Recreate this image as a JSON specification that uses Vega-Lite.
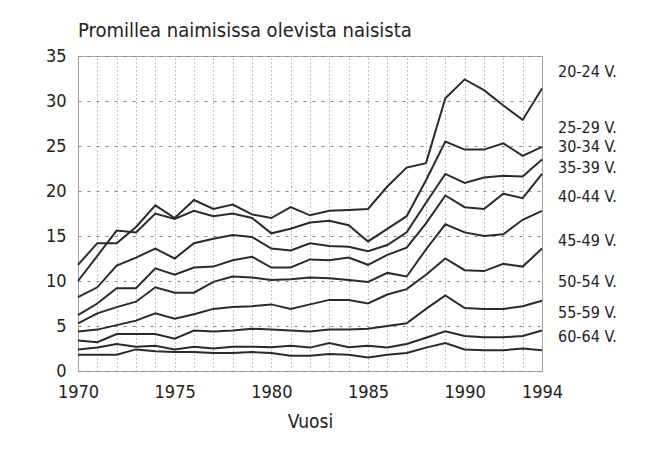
{
  "$schema": "https://vega.github.io/schema/vega-lite/v6.json",
  "width": 464,
  "height": 315,
  "autosize": "none",
  "padding": {"left": 78, "top": 56, "right": 122, "bottom": 84},
  "background": "white",
  "title": {
    "text": "Promillea naimisissa olevista naisista",
    "anchor": "start",
    "frame": "group",
    "offset": 6,
    "font": "DejaVu Sans Condensed, sans-serif",
    "fontSize": 20,
    "fontWeight": "normal",
    "color": "#222"
  },
  "datasets": {
    "rates": [
      {"year": 1970, "age": "20-24 V.", "value": 11.8}, {"year": 1971, "age": "20-24 V.", "value": 14.2}, {"year": 1972, "age": "20-24 V.", "value": 14.2}, {"year": 1973, "age": "20-24 V.", "value": 16.0}, {"year": 1974, "age": "20-24 V.", "value": 18.4}, {"year": 1975, "age": "20-24 V.", "value": 17.0}, {"year": 1976, "age": "20-24 V.", "value": 19.0}, {"year": 1977, "age": "20-24 V.", "value": 18.0}, {"year": 1978, "age": "20-24 V.", "value": 18.5}, {"year": 1979, "age": "20-24 V.", "value": 17.4}, {"year": 1980, "age": "20-24 V.", "value": 17.0}, {"year": 1981, "age": "20-24 V.", "value": 18.2}, {"year": 1982, "age": "20-24 V.", "value": 17.3}, {"year": 1983, "age": "20-24 V.", "value": 17.8}, {"year": 1984, "age": "20-24 V.", "value": 17.9}, {"year": 1985, "age": "20-24 V.", "value": 18.0}, {"year": 1986, "age": "20-24 V.", "value": 20.5}, {"year": 1987, "age": "20-24 V.", "value": 22.6}, {"year": 1988, "age": "20-24 V.", "value": 23.1}, {"year": 1989, "age": "20-24 V.", "value": 30.3}, {"year": 1990, "age": "20-24 V.", "value": 32.4}, {"year": 1991, "age": "20-24 V.", "value": 31.2}, {"year": 1992, "age": "20-24 V.", "value": 29.5}, {"year": 1993, "age": "20-24 V.", "value": 27.9}, {"year": 1994, "age": "20-24 V.", "value": 31.4},
      {"year": 1970, "age": "25-29 V.", "value": 10.0}, {"year": 1971, "age": "25-29 V.", "value": 12.8}, {"year": 1972, "age": "25-29 V.", "value": 15.6}, {"year": 1973, "age": "25-29 V.", "value": 15.4}, {"year": 1974, "age": "25-29 V.", "value": 17.5}, {"year": 1975, "age": "25-29 V.", "value": 16.9}, {"year": 1976, "age": "25-29 V.", "value": 17.8}, {"year": 1977, "age": "25-29 V.", "value": 17.2}, {"year": 1978, "age": "25-29 V.", "value": 17.5}, {"year": 1979, "age": "25-29 V.", "value": 17.0}, {"year": 1980, "age": "25-29 V.", "value": 15.3}, {"year": 1981, "age": "25-29 V.", "value": 15.8}, {"year": 1982, "age": "25-29 V.", "value": 16.5}, {"year": 1983, "age": "25-29 V.", "value": 16.7}, {"year": 1984, "age": "25-29 V.", "value": 16.2}, {"year": 1985, "age": "25-29 V.", "value": 14.4}, {"year": 1986, "age": "25-29 V.", "value": 15.8}, {"year": 1987, "age": "25-29 V.", "value": 17.2}, {"year": 1988, "age": "25-29 V.", "value": 21.2}, {"year": 1989, "age": "25-29 V.", "value": 25.5}, {"year": 1990, "age": "25-29 V.", "value": 24.6}, {"year": 1991, "age": "25-29 V.", "value": 24.6}, {"year": 1992, "age": "25-29 V.", "value": 25.3}, {"year": 1993, "age": "25-29 V.", "value": 23.9}, {"year": 1994, "age": "25-29 V.", "value": 24.9},
      {"year": 1970, "age": "30-34 V.", "value": 8.2}, {"year": 1971, "age": "30-34 V.", "value": 9.3}, {"year": 1972, "age": "30-34 V.", "value": 11.7}, {"year": 1973, "age": "30-34 V.", "value": 12.6}, {"year": 1974, "age": "30-34 V.", "value": 13.6}, {"year": 1975, "age": "30-34 V.", "value": 12.5}, {"year": 1976, "age": "30-34 V.", "value": 14.2}, {"year": 1977, "age": "30-34 V.", "value": 14.7}, {"year": 1978, "age": "30-34 V.", "value": 15.1}, {"year": 1979, "age": "30-34 V.", "value": 14.9}, {"year": 1980, "age": "30-34 V.", "value": 13.6}, {"year": 1981, "age": "30-34 V.", "value": 13.4}, {"year": 1982, "age": "30-34 V.", "value": 14.2}, {"year": 1983, "age": "30-34 V.", "value": 13.9}, {"year": 1984, "age": "30-34 V.", "value": 13.8}, {"year": 1985, "age": "30-34 V.", "value": 13.3}, {"year": 1986, "age": "30-34 V.", "value": 14.0}, {"year": 1987, "age": "30-34 V.", "value": 15.4}, {"year": 1988, "age": "30-34 V.", "value": 18.7}, {"year": 1989, "age": "30-34 V.", "value": 21.9}, {"year": 1990, "age": "30-34 V.", "value": 20.9}, {"year": 1991, "age": "30-34 V.", "value": 21.5}, {"year": 1992, "age": "30-34 V.", "value": 21.7}, {"year": 1993, "age": "30-34 V.", "value": 21.6}, {"year": 1994, "age": "30-34 V.", "value": 23.5},
      {"year": 1970, "age": "35-39 V.", "value": 6.2}, {"year": 1971, "age": "35-39 V.", "value": 7.5}, {"year": 1972, "age": "35-39 V.", "value": 9.2}, {"year": 1973, "age": "35-39 V.", "value": 9.2}, {"year": 1974, "age": "35-39 V.", "value": 11.4}, {"year": 1975, "age": "35-39 V.", "value": 10.7}, {"year": 1976, "age": "35-39 V.", "value": 11.5}, {"year": 1977, "age": "35-39 V.", "value": 11.6}, {"year": 1978, "age": "35-39 V.", "value": 12.3}, {"year": 1979, "age": "35-39 V.", "value": 12.7}, {"year": 1980, "age": "35-39 V.", "value": 11.5}, {"year": 1981, "age": "35-39 V.", "value": 11.5}, {"year": 1982, "age": "35-39 V.", "value": 12.4}, {"year": 1983, "age": "35-39 V.", "value": 12.3}, {"year": 1984, "age": "35-39 V.", "value": 12.6}, {"year": 1985, "age": "35-39 V.", "value": 11.8}, {"year": 1986, "age": "35-39 V.", "value": 12.9}, {"year": 1987, "age": "35-39 V.", "value": 13.7}, {"year": 1988, "age": "35-39 V.", "value": 16.4}, {"year": 1989, "age": "35-39 V.", "value": 19.5}, {"year": 1990, "age": "35-39 V.", "value": 18.2}, {"year": 1991, "age": "35-39 V.", "value": 18.0}, {"year": 1992, "age": "35-39 V.", "value": 19.7}, {"year": 1993, "age": "35-39 V.", "value": 19.2}, {"year": 1994, "age": "35-39 V.", "value": 21.9},
      {"year": 1970, "age": "40-44 V.", "value": 5.3}, {"year": 1971, "age": "40-44 V.", "value": 6.4}, {"year": 1972, "age": "40-44 V.", "value": 7.1}, {"year": 1973, "age": "40-44 V.", "value": 7.7}, {"year": 1974, "age": "40-44 V.", "value": 9.3}, {"year": 1975, "age": "40-44 V.", "value": 8.7}, {"year": 1976, "age": "40-44 V.", "value": 8.7}, {"year": 1977, "age": "40-44 V.", "value": 9.9}, {"year": 1978, "age": "40-44 V.", "value": 10.5}, {"year": 1979, "age": "40-44 V.", "value": 10.4}, {"year": 1980, "age": "40-44 V.", "value": 10.1}, {"year": 1981, "age": "40-44 V.", "value": 10.2}, {"year": 1982, "age": "40-44 V.", "value": 10.4}, {"year": 1983, "age": "40-44 V.", "value": 10.3}, {"year": 1984, "age": "40-44 V.", "value": 10.1}, {"year": 1985, "age": "40-44 V.", "value": 9.9}, {"year": 1986, "age": "40-44 V.", "value": 10.9}, {"year": 1987, "age": "40-44 V.", "value": 10.5}, {"year": 1988, "age": "40-44 V.", "value": 13.5}, {"year": 1989, "age": "40-44 V.", "value": 16.3}, {"year": 1990, "age": "40-44 V.", "value": 15.4}, {"year": 1991, "age": "40-44 V.", "value": 15.0}, {"year": 1992, "age": "40-44 V.", "value": 15.2}, {"year": 1993, "age": "40-44 V.", "value": 16.8}, {"year": 1994, "age": "40-44 V.", "value": 17.8},
      {"year": 1970, "age": "45-49 V.", "value": 4.4}, {"year": 1971, "age": "45-49 V.", "value": 4.6}, {"year": 1972, "age": "45-49 V.", "value": 5.1}, {"year": 1973, "age": "45-49 V.", "value": 5.6}, {"year": 1974, "age": "45-49 V.", "value": 6.4}, {"year": 1975, "age": "45-49 V.", "value": 5.8}, {"year": 1976, "age": "45-49 V.", "value": 6.3}, {"year": 1977, "age": "45-49 V.", "value": 6.9}, {"year": 1978, "age": "45-49 V.", "value": 7.1}, {"year": 1979, "age": "45-49 V.", "value": 7.2}, {"year": 1980, "age": "45-49 V.", "value": 7.4}, {"year": 1981, "age": "45-49 V.", "value": 6.9}, {"year": 1982, "age": "45-49 V.", "value": 7.4}, {"year": 1983, "age": "45-49 V.", "value": 7.9}, {"year": 1984, "age": "45-49 V.", "value": 7.9}, {"year": 1985, "age": "45-49 V.", "value": 7.5}, {"year": 1986, "age": "45-49 V.", "value": 8.5}, {"year": 1987, "age": "45-49 V.", "value": 9.1}, {"year": 1988, "age": "45-49 V.", "value": 10.7}, {"year": 1989, "age": "45-49 V.", "value": 12.5}, {"year": 1990, "age": "45-49 V.", "value": 11.2}, {"year": 1991, "age": "45-49 V.", "value": 11.1}, {"year": 1992, "age": "45-49 V.", "value": 11.9}, {"year": 1993, "age": "45-49 V.", "value": 11.6}, {"year": 1994, "age": "45-49 V.", "value": 13.6},
      {"year": 1970, "age": "50-54 V.", "value": 3.4}, {"year": 1971, "age": "50-54 V.", "value": 3.2}, {"year": 1972, "age": "50-54 V.", "value": 4.1}, {"year": 1973, "age": "50-54 V.", "value": 4.1}, {"year": 1974, "age": "50-54 V.", "value": 4.1}, {"year": 1975, "age": "50-54 V.", "value": 3.6}, {"year": 1976, "age": "50-54 V.", "value": 4.5}, {"year": 1977, "age": "50-54 V.", "value": 4.4}, {"year": 1978, "age": "50-54 V.", "value": 4.5}, {"year": 1979, "age": "50-54 V.", "value": 4.7}, {"year": 1980, "age": "50-54 V.", "value": 4.6}, {"year": 1981, "age": "50-54 V.", "value": 4.5}, {"year": 1982, "age": "50-54 V.", "value": 4.4}, {"year": 1983, "age": "50-54 V.", "value": 4.6}, {"year": 1984, "age": "50-54 V.", "value": 4.6}, {"year": 1985, "age": "50-54 V.", "value": 4.7}, {"year": 1986, "age": "50-54 V.", "value": 5.0}, {"year": 1987, "age": "50-54 V.", "value": 5.3}, {"year": 1988, "age": "50-54 V.", "value": 6.9}, {"year": 1989, "age": "50-54 V.", "value": 8.4}, {"year": 1990, "age": "50-54 V.", "value": 7.0}, {"year": 1991, "age": "50-54 V.", "value": 6.9}, {"year": 1992, "age": "50-54 V.", "value": 6.9}, {"year": 1993, "age": "50-54 V.", "value": 7.2}, {"year": 1994, "age": "50-54 V.", "value": 7.8},
      {"year": 1970, "age": "55-59 V.", "value": 2.4}, {"year": 1971, "age": "55-59 V.", "value": 2.6}, {"year": 1972, "age": "55-59 V.", "value": 3.0}, {"year": 1973, "age": "55-59 V.", "value": 2.7}, {"year": 1974, "age": "55-59 V.", "value": 2.8}, {"year": 1975, "age": "55-59 V.", "value": 2.4}, {"year": 1976, "age": "55-59 V.", "value": 2.7}, {"year": 1977, "age": "55-59 V.", "value": 2.5}, {"year": 1978, "age": "55-59 V.", "value": 2.7}, {"year": 1979, "age": "55-59 V.", "value": 2.7}, {"year": 1980, "age": "55-59 V.", "value": 2.65}, {"year": 1981, "age": "55-59 V.", "value": 2.8}, {"year": 1982, "age": "55-59 V.", "value": 2.6}, {"year": 1983, "age": "55-59 V.", "value": 3.1}, {"year": 1984, "age": "55-59 V.", "value": 2.65}, {"year": 1985, "age": "55-59 V.", "value": 2.8}, {"year": 1986, "age": "55-59 V.", "value": 2.6}, {"year": 1987, "age": "55-59 V.", "value": 3.0}, {"year": 1988, "age": "55-59 V.", "value": 3.7}, {"year": 1989, "age": "55-59 V.", "value": 4.4}, {"year": 1990, "age": "55-59 V.", "value": 3.9}, {"year": 1991, "age": "55-59 V.", "value": 3.75}, {"year": 1992, "age": "55-59 V.", "value": 3.75}, {"year": 1993, "age": "55-59 V.", "value": 3.9}, {"year": 1994, "age": "55-59 V.", "value": 4.5},
      {"year": 1970, "age": "60-64 V.", "value": 1.8}, {"year": 1971, "age": "60-64 V.", "value": 1.8}, {"year": 1972, "age": "60-64 V.", "value": 1.8}, {"year": 1973, "age": "60-64 V.", "value": 2.4}, {"year": 1974, "age": "60-64 V.", "value": 2.2}, {"year": 1975, "age": "60-64 V.", "value": 2.1}, {"year": 1976, "age": "60-64 V.", "value": 2.1}, {"year": 1977, "age": "60-64 V.", "value": 2.0}, {"year": 1978, "age": "60-64 V.", "value": 2.0}, {"year": 1979, "age": "60-64 V.", "value": 2.1}, {"year": 1980, "age": "60-64 V.", "value": 2.0}, {"year": 1981, "age": "60-64 V.", "value": 1.7}, {"year": 1982, "age": "60-64 V.", "value": 1.7}, {"year": 1983, "age": "60-64 V.", "value": 1.9}, {"year": 1984, "age": "60-64 V.", "value": 1.8}, {"year": 1985, "age": "60-64 V.", "value": 1.5}, {"year": 1986, "age": "60-64 V.", "value": 1.8}, {"year": 1987, "age": "60-64 V.", "value": 2.0}, {"year": 1988, "age": "60-64 V.", "value": 2.6}, {"year": 1989, "age": "60-64 V.", "value": 3.1}, {"year": 1990, "age": "60-64 V.", "value": 2.4}, {"year": 1991, "age": "60-64 V.", "value": 2.3}, {"year": 1992, "age": "60-64 V.", "value": 2.3}, {"year": 1993, "age": "60-64 V.", "value": 2.5}, {"year": 1994, "age": "60-64 V.", "value": 2.3}
    ],
    "labels": [
      {"age": "20-24 V.", "year": 1994, "pos": 33.2},
      {"age": "25-29 V.", "year": 1994, "pos": 27.0},
      {"age": "30-34 V.", "year": 1994, "pos": 24.9},
      {"age": "35-39 V.", "year": 1994, "pos": 22.6},
      {"age": "40-44 V.", "year": 1994, "pos": 19.3},
      {"age": "45-49 V.", "year": 1994, "pos": 14.4},
      {"age": "50-54 V.", "year": 1994, "pos": 9.85},
      {"age": "55-59 V.", "year": 1994, "pos": 6.4},
      {"age": "60-64 V.", "year": 1994, "pos": 3.8}
    ]
  },
  "resolve": {"axis": {"x": "independent"}},
  "layer": [
    {
      "data": {"name": "rates"},
      "mark": {"type": "line", "color": "#2a2a2a", "strokeWidth": 2, "strokeJoin": "miter"},
      "encoding": {
        "x": {
          "field": "year", "type": "quantitative",
          "scale": {"domain": [1970, 1994], "nice": false, "zero": false},
          "axis": {
            "title": "Vuosi",
            "orient": "bottom",
            "values": [1970, 1975, 1980, 1985, 1990, 1994],
            "format": "d",
            "labelFlush": false,
            "labelOverlap": false,
            "ticks": false,
            "domain": false,
            "labelPadding": 12,
            "titlePadding": 11,
            "grid": false
          }
        },
        "y": {
          "field": "value", "type": "quantitative",
          "scale": {"domain": [0, 35], "nice": false},
          "axis": {
            "title": null,
            "values": [0, 5, 10, 15, 20, 25, 30, 35],
            "ticks": false,
            "domain": false,
            "labelPadding": 12,
            "grid": true,
            "gridDash": [3, 6],
            "gridColor": "#888",
            "gridWidth": 1
          }
        },
        "detail": {"field": "age"}
      }
    },
    {
      "data": {"name": "labels"},
      "mark": {"type": "text", "align": "left", "baseline": "middle", "dx": 16, "font": "DejaVu Sans Condensed, sans-serif", "fontSize": 16, "color": "#222"},
      "encoding": {
        "x": {
          "field": "year", "type": "quantitative",
          "axis": {
            "orient": "top",
            "title": null,
            "values": [1970, 1971, 1972, 1973, 1974, 1975, 1976, 1977, 1978, 1979, 1980, 1981, 1982, 1983, 1984, 1985, 1986, 1987, 1988, 1989, 1990, 1991, 1992, 1993, 1994],
            "labels": false,
            "ticks": false,
            "domain": false,
            "grid": true,
            "gridDash": [1, 3],
            "gridColor": "#888",
            "gridWidth": 1
          }
        },
        "y": {"field": "pos", "type": "quantitative"},
        "text": {"field": "age"}
      }
    }
  ],
  "config": {
    "view": {"stroke": "#555", "strokeDash": [1, 1], "strokeWidth": 1},
    "axis": {
      "labelFont": "DejaVu Sans Condensed, sans-serif",
      "labelFontSize": 18,
      "labelColor": "#222",
      "titleFont": "DejaVu Sans Condensed, sans-serif",
      "titleFontSize": 19,
      "titleFontWeight": "normal",
      "titleColor": "#222"
    }
  }
}
